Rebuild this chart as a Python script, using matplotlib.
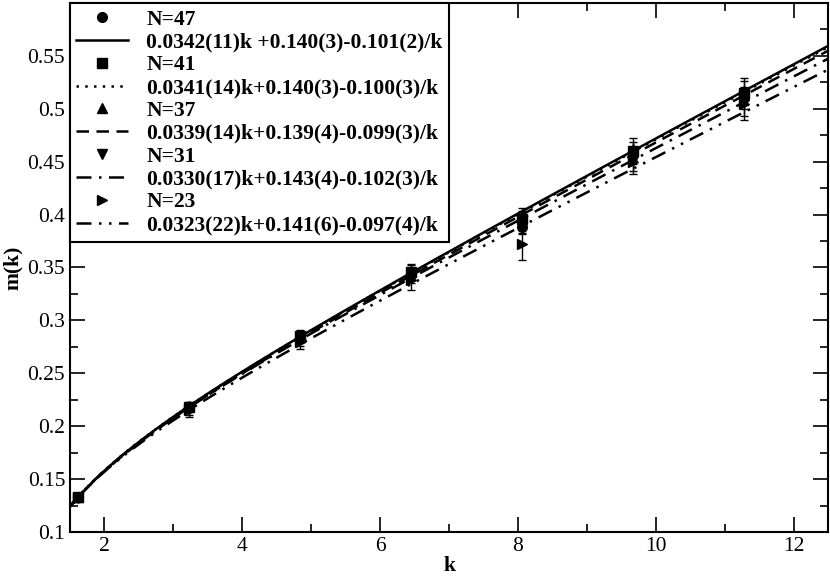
import numpy as np
import matplotlib
matplotlib.use('Agg')
from matplotlib import pyplot as plt
from matplotlib.ticker import MultipleLocator, FormatStrFormatter

plt.rcParams['font.family'] = 'Liberation Serif'

k = [1.61, 3.22, 4.84, 6.45, 8.06, 9.67, 11.28]

# measured m(k) and errors, one list per lattice size
m47 = [0.133, 0.217, 0.284, 0.344, 0.388, 0.456, 0.510]
e47 = [0.002, 0.003, 0.004, 0.005, 0.006, 0.008, 0.010]
m41 = [0.133, 0.218, 0.285, 0.346, 0.396, 0.460, 0.515]
e41 = [0.002, 0.004, 0.005, 0.006, 0.007, 0.009, 0.011]
m37 = [0.133, 0.219, 0.286, 0.347, 0.398, 0.462, 0.517]
e37 = [0.002, 0.004, 0.005, 0.006, 0.008, 0.010, 0.012]
m31 = [0.132, 0.216, 0.282, 0.342, 0.392, 0.452, 0.506]
e31 = [0.003, 0.005, 0.006, 0.007, 0.009, 0.011, 0.013]
m23 = [0.132, 0.215, 0.280, 0.338, 0.372, 0.450, 0.505]
e23 = [0.003, 0.006, 0.007, 0.009, 0.015, 0.012, 0.016]

# fit a*k + b - c/k
fit47 = [0.0342, 0.140, 0.101]
fit41 = [0.0341, 0.140, 0.100]
fit37 = [0.0339, 0.139, 0.099]
fit31 = [0.0330, 0.143, 0.102]
fit23 = [0.0323, 0.141, 0.097]

names = ['N=47', 'N=41', 'N=37', 'N=31', 'N=23']
fit_labels = ['0.0342(11)k +0.140(3)-0.101(2)/k',
              '0.0341(14)k+0.140(3)-0.100(3)/k',
              '0.0339(14)k+0.139(4)-0.099(3)/k',
              '0.0330(17)k+0.143(4)-0.102(3)/k',
              '0.0323(22)k+0.141(6)-0.097(4)/k']

data = [(m47, e47, fit47), (m41, e41, fit41), (m37, e37, fit37),
        (m31, e31, fit31), (m23, e23, fit23)]
markers = ['o', 's', '^', 'v', '>']
styles = ['-', (0, (1, 2.5)), (0, (5, 3)), (0, (6, 3, 1, 3)), (0, (6, 3, 1, 3, 1, 3))]

fig = plt.figure(figsize=(8.3, 5.78), dpi=100)
ax = fig.add_axes([70/830, 46/578, 758/830, 529/578])

kk = np.linspace(1.5, 12.5, 300)
handles = []
for i in range(len(data)):
    m, e, p = data[i]
    ax.errorbar(k, m, yerr=e, fmt='none', ecolor='black', elinewidth=1, capsize=3, capthick=1)
    h1, = ax.plot(k, m, markers[i], color='black', ms=7, ls='none', label=names[i])
    h2, = ax.plot(kk, p[0] * kk + p[1] - p[2] / kk, color='black', lw=1.8,
                  ls=styles[i], label=fit_labels[i])
    handles.append(h1)
    handles.append(h2)

ax.set_xlim(1.5, 12.5)
ax.set_ylim(0.1, 0.6)
ax.set_yticks(np.arange(0.1, 0.56, 0.05))
ax.yaxis.set_major_formatter(FormatStrFormatter('%g'))
ax.xaxis.set_major_locator(MultipleLocator(2))
ax.xaxis.set_minor_locator(MultipleLocator(1))
ax.yaxis.set_minor_locator(MultipleLocator(0.025))
ax.tick_params(which='both', direction='in', top=True, right=True, labelsize=15.5, width=1.2)
ax.tick_params(which='major', length=11)
ax.tick_params(which='minor', length=6)
for s in ax.spines.values():
    s.set_linewidth(1.5)

ax.set_xlabel('k', fontsize=15.5, fontweight='bold', labelpad=0)
ax.set_ylabel('m(k)', fontsize=15.5, fontweight='bold', labelpad=3)

leg = ax.legend(handles=handles, loc='upper left', bbox_to_anchor=(0, 1), borderaxespad=0,
                prop={'weight': 'bold', 'size': 15.5}, labelspacing=0.13, handlelength=2.4,
                handletextpad=0.85, fancybox=False, framealpha=1, edgecolor='black',
                borderpad=0.3)
leg.get_frame().set_linewidth(1.5)

fig.savefig('out.png', dpi=100)
